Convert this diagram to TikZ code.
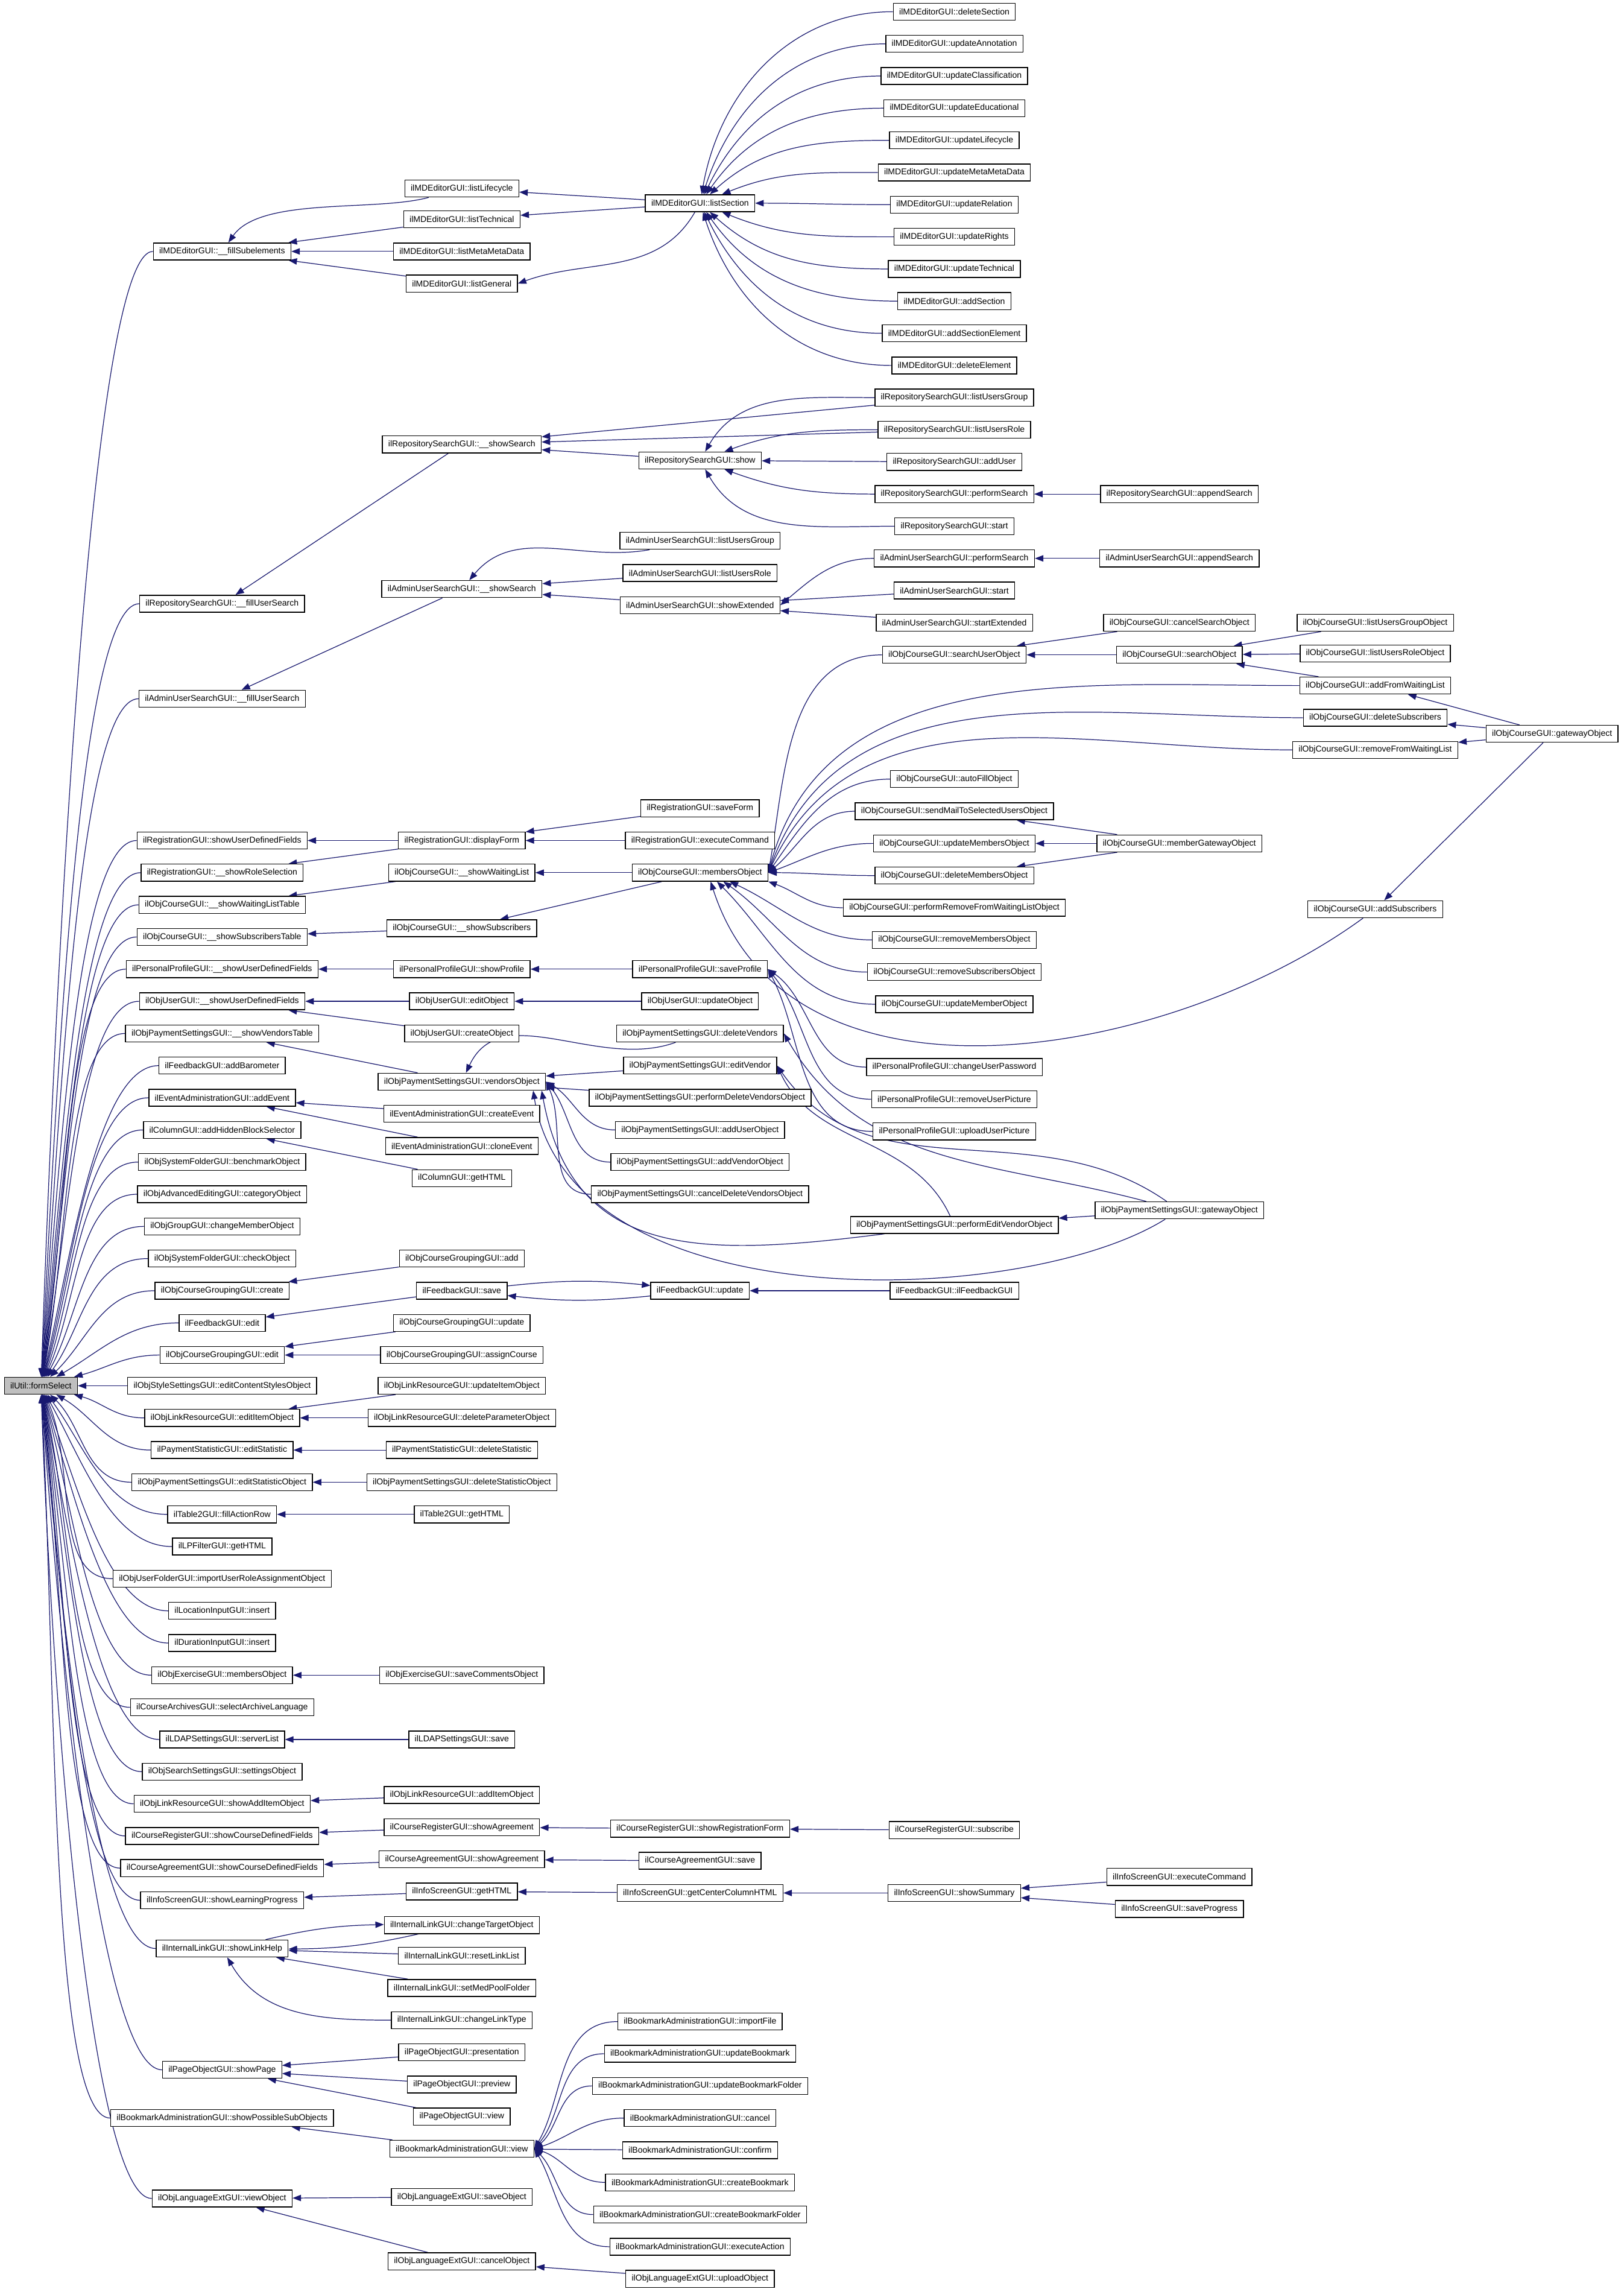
\documentclass[tikz,border=0pt]{standalone}
\usepackage{fontspec}
\newfontfamily\dotfont{Liberation Sans}
\usetikzlibrary{arrows.meta,backgrounds}
\definecolor{EdgeBlue}{HTML}{191970}
\definecolor{FocusGray}{HTML}{BFBFBF}

\begin{document}
\begin{tikzpicture}[x=0.02424cm, y=0.02424cm,
  fn/.style={draw=black, fill=white, line width=0.4pt, font=\dotfont\fontsize{4pt}{4.8pt}\selectfont, inner xsep=2.8pt, inner ysep=0pt, minimum height=8pt},
  focus/.style={fn, fill=FocusGray},
  call/.style={draw=EdgeBlue, line width=0.35pt, -{Triangle[length=4pt,width=3pt]}}]
  \node[focus] (formSelect) at (28,-948) {ilUtil::formSelect};
  \foreach \n/\y/\t in {mdFill/172/{ilMDEditorGUI::\_\_fillSubelements}, repoFill/413/{ilRepositorySearchGUI::\_\_fillUserSearch}, adminFill/478/{ilAdminUserSearchGUI::\_\_fillUserSearch},
    regUDF/575/{ilRegistrationGUI::showUserDefinedFields}, regRole/597/{ilRegistrationGUI::\_\_showRoleSelection}, crsWaitTable/619/{ilObjCourseGUI::\_\_showWaitingListTable},
    crsSubTable/641/{ilObjCourseGUI::\_\_showSubscribersTable}, ppUDF/663/{ilPersonalProfileGUI::\_\_showUserDefinedFields}, usrUDF/685/{ilObjUserGUI::\_\_showUserDefinedFields},
    payTable/707/{ilObjPaymentSettingsGUI::\_\_showVendorsTable}, fbBaro/729/{ilFeedbackGUI::addBarometer}, evAdd/751/{ilEventAdministrationGUI::addEvent},
    colAdd/773/{ilColumnGUI::addHiddenBlockSelector}, sysBench/795/{ilObjSystemFolderGUI::benchmarkObject}, advCat/817/{ilObjAdvancedEditingGUI::categoryObject},
    grpChange/839/{ilObjGroupGUI::changeMemberObject}, sysCheck/861/{ilObjSystemFolderGUI::checkObject}, grpCreate/883/{ilObjCourseGroupingGUI::create},
    fbEdit/905/{ilFeedbackGUI::edit}, grpEdit/927/{ilObjCourseGroupingGUI::edit}, styleEdit/948/{ilObjStyleSettingsGUI::editContentStylesObject},
    lnkEdit/970/{ilObjLinkResourceGUI::editItemObject}, statEdit/992/{ilPaymentStatisticGUI::editStatistic}, payStatEdit/1014/{ilObjPaymentSettingsGUI::editStatisticObject},
    tblFill/1036/{ilTable2GUI::fillActionRow}, lpHTML/1058/{ilLPFilterGUI::getHTML}, usrImport/1080/{ilObjUserFolderGUI::importUserRoleAssignmentObject},
    locInsert/1102/{ilLocationInputGUI::insert}, durInsert/1124/{ilDurationInputGUI::insert}, excMembers/1146/{ilObjExerciseGUI::membersObject},
    arcSelect/1168/{ilCourseArchivesGUI::selectArchiveLanguage}, ldapList/1190/{ilLDAPSettingsGUI::serverList}, srchSettings/1212/{ilObjSearchSettingsGUI::settingsObject},
    lnkShowAdd/1234/{ilObjLinkResourceGUI::showAddItemObject}, crFields/1256/{ilCourseRegisterGUI::showCourseDefinedFields}, caFields/1278/{ilCourseAgreementGUI::showCourseDefinedFields},
    infLP/1300/{ilInfoScreenGUI::showLearningProgress}, linkHelp/1333/{ilInternalLinkGUI::showLinkHelp}, pgShow/1416/{ilPageObjectGUI::showPage},
    bmSubObj/1449/{ilBookmarkAdministrationGUI::showPossibleSubObjects}, lngView/1504/{ilObjLanguageExtGUI::viewObject}}
    \node[fn] (\n) at (152,-\y) {\t};
  \foreach \n/\y/\t in {mdLifecycle/129/{ilMDEditorGUI::listLifecycle}, mdTechnical/150/{ilMDEditorGUI::listTechnical}, mdMetaMeta/172/{ilMDEditorGUI::listMetaMetaData},
    mdGeneral/194/{ilMDEditorGUI::listGeneral}, repoSearch/304/{ilRepositorySearchGUI::\_\_showSearch}, adminSearch/403/{ilAdminUserSearchGUI::\_\_showSearch},
    regForm/575/{ilRegistrationGUI::displayForm}, crsWaitList/597/{ilObjCourseGUI::\_\_showWaitingList}, crsSubscr/635/{ilObjCourseGUI::\_\_showSubscribers},
    ppProfile/663/{ilPersonalProfileGUI::showProfile}, usrEdit/685/{ilObjUserGUI::editObject}, usrCreate/707/{ilObjUserGUI::createObject},
    payVendors/740/{ilObjPaymentSettingsGUI::vendorsObject}, evCreate/762/{ilEventAdministrationGUI::createEvent}, evClone/784/{ilEventAdministrationGUI::cloneEvent},
    colHTML/806/{ilColumnGUI::getHTML}, grpAdd/861/{ilObjCourseGroupingGUI::add}, fbSave/883/{ilFeedbackGUI::save},
    grpUpdate/905/{ilObjCourseGroupingGUI::update}, grpAssign/927/{ilObjCourseGroupingGUI::assignCourse}, lnkUpdate/948/{ilObjLinkResourceGUI::updateItemObject},
    lnkDelParam/970/{ilObjLinkResourceGUI::deleteParameterObject}, statDelete/992/{ilPaymentStatisticGUI::deleteStatistic}, payStatDelete/1014/{ilObjPaymentSettingsGUI::deleteStatisticObject},
    tblHTML/1036/{ilTable2GUI::getHTML}, excSave/1146/{ilObjExerciseGUI::saveCommentsObject}, ldapSave/1190/{ilLDAPSettingsGUI::save},
    lnkAdd/1228/{ilObjLinkResourceGUI::addItemObject}, crAgree/1250/{ilCourseRegisterGUI::showAgreement}, caAgree/1272/{ilCourseAgreementGUI::showAgreement},
    infHTML/1294/{ilInfoScreenGUI::getHTML}, linkTarget/1317/{ilInternalLinkGUI::changeTargetObject}, linkReset/1338/{ilInternalLinkGUI::resetLinkList},
    linkMedPool/1360/{ilInternalLinkGUI::setMedPoolFolder}, linkType/1382/{ilInternalLinkGUI::changeLinkType}, pgPresent/1404/{ilPageObjectGUI::presentation},
    pgPreview/1426/{ilPageObjectGUI::preview}, pgView/1448/{ilPageObjectGUI::view}, bmView/1470/{ilBookmarkAdministrationGUI::view},
    lngSave/1503/{ilObjLanguageExtGUI::saveObject}, lngCancel/1547/{ilObjLanguageExtGUI::cancelObject}}
    \node[fn] (\n) at (316,-\y) {\t};
  \foreach \n/\y/\t in {mdSection/139/{ilMDEditorGUI::listSection}, repoShow/315/{ilRepositorySearchGUI::show}, adminGroup/370/{ilAdminUserSearchGUI::listUsersGroup},
    adminRole/392/{ilAdminUserSearchGUI::listUsersRole}, adminExt/414/{ilAdminUserSearchGUI::showExtended}, regSave/553/{ilRegistrationGUI::saveForm},
    regExec/575/{ilRegistrationGUI::executeCommand}, crsMembers/597/{ilObjCourseGUI::membersObject}, ppSave/663/{ilPersonalProfileGUI::saveProfile},
    usrUpdate/685/{ilObjUserGUI::updateObject}, payDelVendors/707/{ilObjPaymentSettingsGUI::deleteVendors}, payEditVendor/729/{ilObjPaymentSettingsGUI::editVendor},
    payPerfDelete/751/{ilObjPaymentSettingsGUI::performDeleteVendorsObject}, payAddUser/773/{ilObjPaymentSettingsGUI::addUserObject}, payAddVendor/795/{ilObjPaymentSettingsGUI::addVendorObject},
    payCancelDel/817/{ilObjPaymentSettingsGUI::cancelDeleteVendorsObject}, fbUpdate/883/{ilFeedbackGUI::update}, crRegForm/1251/{ilCourseRegisterGUI::showRegistrationForm},
    caSave/1273/{ilCourseAgreementGUI::save}, infCenter/1295/{ilInfoScreenGUI::getCenterColumnHTML}, bmImport/1383/{ilBookmarkAdministrationGUI::importFile},
    bmUpdate/1405/{ilBookmarkAdministrationGUI::updateBookmark}, bmUpdFolder/1427/{ilBookmarkAdministrationGUI::updateBookmarkFolder}, bmCancel/1449/{ilBookmarkAdministrationGUI::cancel},
    bmConfirm/1471/{ilBookmarkAdministrationGUI::confirm}, bmCreate/1493/{ilBookmarkAdministrationGUI::createBookmark}, bmCreateFolder/1515/{ilBookmarkAdministrationGUI::createBookmarkFolder},
    bmExec/1537/{ilBookmarkAdministrationGUI::executeAction}, lngUpload/1559/{ilObjLanguageExtGUI::uploadObject}}
    \node[fn] (\n) at (479,-\y) {\t};
  \foreach \n/\y/\t in {mdDelSection/8/{ilMDEditorGUI::deleteSection}, mdUpdAnnot/30/{ilMDEditorGUI::updateAnnotation}, mdUpdClass/52/{ilMDEditorGUI::updateClassification},
    mdUpdEdu/74/{ilMDEditorGUI::updateEducational}, mdUpdLife/96/{ilMDEditorGUI::updateLifecycle}, mdUpdMeta/118/{ilMDEditorGUI::updateMetaMetaData},
    mdUpdRel/140/{ilMDEditorGUI::updateRelation}, mdUpdRights/162/{ilMDEditorGUI::updateRights}, mdUpdTech/184/{ilMDEditorGUI::updateTechnical},
    mdAddSection/206/{ilMDEditorGUI::addSection}, mdAddElem/228/{ilMDEditorGUI::addSectionElement}, mdDelElem/250/{ilMDEditorGUI::deleteElement},
    repoGroup/272/{ilRepositorySearchGUI::listUsersGroup}, repoRole/294/{ilRepositorySearchGUI::listUsersRole}, repoAddUser/316/{ilRepositorySearchGUI::addUser},
    repoPerform/338/{ilRepositorySearchGUI::performSearch}, repoStart/360/{ilRepositorySearchGUI::start}, adminPerform/382/{ilAdminUserSearchGUI::performSearch},
    adminStart/404/{ilAdminUserSearchGUI::start}, adminStartExt/426/{ilAdminUserSearchGUI::startExtended}, crsSearchUser/448/{ilObjCourseGUI::searchUserObject},
    crsAutoFill/533/{ilObjCourseGUI::autoFillObject}, crsSendMail/555/{ilObjCourseGUI::sendMailToSelectedUsersObject}, crsUpdMembers/577/{ilObjCourseGUI::updateMembersObject},
    crsDelMembers/599/{ilObjCourseGUI::deleteMembersObject}, crsPerfRemove/621/{ilObjCourseGUI::performRemoveFromWaitingListObject}, crsRemMembers/643/{ilObjCourseGUI::removeMembersObject},
    crsRemSubscr/665/{ilObjCourseGUI::removeSubscribersObject}, crsUpdMember/687/{ilObjCourseGUI::updateMemberObject}, ppPassword/730/{ilPersonalProfileGUI::changeUserPassword},
    ppRemPic/752/{ilPersonalProfileGUI::removeUserPicture}, ppUpPic/774/{ilPersonalProfileGUI::uploadUserPicture}, payPerfEdit/838/{ilObjPaymentSettingsGUI::performEditVendorObject},
    fbCtor/883/{ilFeedbackGUI::ilFeedbackGUI}, crSubscribe/1252/{ilCourseRegisterGUI::subscribe}, infSummary/1295/{ilInfoScreenGUI::showSummary}}
    \node[fn] (\n) at (653,-\y) {\t};
  \foreach \n/\y/\t in {repoAppend/338/{ilRepositorySearchGUI::appendSearch}, adminAppend/382/{ilAdminUserSearchGUI::appendSearch}, crsCancelSearch/426/{ilObjCourseGUI::cancelSearchObject},
    crsSearch/448/{ilObjCourseGUI::searchObject}, crsMemberGate/577/{ilObjCourseGUI::memberGatewayObject}, payGateway/828/{ilObjPaymentSettingsGUI::gatewayObject},
    infExec/1284/{ilInfoScreenGUI::executeCommand}, infSaveProg/1306/{ilInfoScreenGUI::saveProgress}}
    \node[fn] (\n) at (807,-\y) {\t};
  \foreach \n/\y/\t in {crsGroupObj/426/{ilObjCourseGUI::listUsersGroupObject}, crsRoleObj/447/{ilObjCourseGUI::listUsersRoleObject}, crsAddWait/469/{ilObjCourseGUI::addFromWaitingList},
    crsDelSubscr/491/{ilObjCourseGUI::deleteSubscribers}, crsRemWait/513/{ilObjCourseGUI::removeFromWaitingList}, crsAddSubscr/622/{ilObjCourseGUI::addSubscribers}}
    \node[fn] (\n) at (941,-\y) {\t};
  \node[fn] (crsGateway) at (1062,-502) {ilObjCourseGUI::gatewayObject};

  \begin{scope}[on background layer]
  \path[fill=white, use as bounding box] (0,0) rectangle (1111,-1568);
  \foreach \s/\b in {mdFill/88, repoFill/87, adminFill/86, regUDF/85, regRole/84, crsWaitTable/83, crsSubTable/82, ppUDF/81, usrUDF/80, payTable/79,
    fbBaro/77, evAdd/75, colAdd/73, sysBench/70, advCat/66, grpChange/61, sysCheck/54, grpCreate/44, fbEdit/30, grpEdit/15, styleEdit/0,
    lnkEdit/-15, statEdit/-30, payStatEdit/-44, tblFill/-54, lpHTML/-61, usrImport/-66, locInsert/-70, durInsert/-73, excMembers/-75, arcSelect/-77,
    ldapList/-79, srchSettings/-80, lnkShowAdd/-81, crFields/-82, caFields/-83, infLP/-84, linkHelp/-85, pgShow/-86, bmSubObj/-87, lngView/-88}
    \draw[call] (\s) to[out=180,in=\b,out max distance=1cm] (formSelect);
  \foreach \s/\t in {mdTechnical/mdFill, mdMetaMeta/mdFill, mdGeneral/mdFill, mdSection/mdLifecycle, mdSection/mdTechnical,
    repoSearch/repoFill, repoGroup/repoSearch, repoRole/repoSearch, repoShow/repoSearch, repoAddUser/repoShow, repoAppend/repoPerform,
    adminSearch/adminFill, adminRole/adminSearch, adminExt/adminSearch, adminStart/adminExt, adminStartExt/adminExt, adminAppend/adminPerform,
    regForm/regUDF, regForm/regRole, regSave/regForm, regExec/regForm,
    crsWaitList/crsWaitTable, crsSubscr/crsSubTable, crsMembers/crsWaitList, crsMembers/crsSubscr,
    crsCancelSearch/crsSearchUser, crsSearch/crsSearchUser, crsGroupObj/crsSearch, crsRoleObj/crsSearch, crsAddWait/crsSearch,
    crsGateway/crsAddWait, crsGateway/crsDelSubscr, crsGateway/crsRemWait, crsGateway/crsAddSubscr,
    crsMemberGate/crsSendMail, crsMemberGate/crsUpdMembers, crsMemberGate/crsDelMembers,
    ppProfile/ppUDF, ppSave/ppProfile, usrEdit/usrUDF, usrCreate/usrUDF, usrUpdate/usrEdit,
    payVendors/payTable, payEditVendor/payVendors, payPerfDelete/payVendors, payGateway/payPerfEdit,
    evCreate/evAdd, evClone/evAdd, colHTML/colAdd, grpAdd/grpCreate, fbSave/fbEdit, fbCtor/fbUpdate, grpUpdate/grpEdit, grpAssign/grpEdit,
    lnkUpdate/lnkEdit, lnkDelParam/lnkEdit, statDelete/statEdit, payStatDelete/payStatEdit, tblHTML/tblFill,
    excSave/excMembers, ldapSave/ldapList, lnkAdd/lnkShowAdd, crAgree/crFields, crRegForm/crAgree, crSubscribe/crRegForm,
    caAgree/caFields, caSave/caAgree, infHTML/infLP, infCenter/infHTML, infSummary/infCenter, infExec/infSummary, infSaveProg/infSummary,
    linkReset/linkHelp, linkMedPool/linkHelp, pgPresent/pgShow, pgPreview/pgShow, pgView/pgShow, bmView/bmSubObj, bmConfirm/bmView,
    lngSave/lngView, lngCancel/lngView, lngUpload/lngCancel}
    \draw[call] (\s) -- (\t);
  \foreach \s/\t/\a/\b in {mdSection/mdGeneral.east/240/20,
    mdDelSection/mdSection/180/80, mdUpdAnnot/mdSection/180/72, mdUpdClass/mdSection/180/64, mdUpdEdu/mdSection/180/55, mdUpdLife/mdSection/180/42,
    mdUpdMeta/mdSection/180/22, mdUpdRel/mdSection/180/0, mdUpdRights/mdSection/180/-22, mdUpdTech/mdSection/180/-42, mdAddSection/mdSection/180/-55,
    mdAddElem/mdSection/180/-64, mdDelElem/mdSection/180/-72,
    repoGroup/repoShow/180/60, repoRole/repoShow/180/20, repoPerform/repoShow/180/-20, repoStart/repoShow/180/-60,
    adminGroup/adminSearch/190/50, adminPerform/adminExt.east/180/40,
    crsSearchUser/crsMembers.east/180/80, crsAddWait/crsMembers.east/180/75, crsDelSubscr/crsMembers.east/180/70, crsRemWait/crsMembers.east/180/65,
    crsAutoFill/crsMembers.east/180/55, crsSendMail/crsMembers.east/180/40, crsUpdMembers/crsMembers.east/180/20, crsDelMembers/crsMembers.east/180/0,
    crsPerfRemove/crsMembers.south east/180/-20,
    ppPassword/ppSave.east/180/-35, ppRemPic/ppSave.east/180/-50, ppUpPic/ppSave.east/180/-62,
    payDelVendors/payVendors/200/65, payAddUser/payVendors.east/180/-30, payAddVendor/payVendors.east/180/-50, payCancelDel/payVendors.east/180/-65,
    payGateway/payDelVendors.east/165/-60, payGateway/payEditVendor.east/145/-55, payPerfEdit/payEditVendor.east/115/-65,
    bmImport/bmView.east/180/60, bmUpdate/bmView.east/180/50, bmUpdFolder/bmView.east/180/40, bmCancel/bmView.east/180/18,
    bmCreate/bmView.east/180/-18, bmCreateFolder/bmView.east/180/-45, bmExec/bmView.east/180/-60, linkType/linkHelp/180/-60}
    \draw[call] (\s) to[out=\a,in=\b] (\t);
  \draw[call] (mdLifecycle) to[out=195,in=55,looseness=0.7] (mdFill);
  \draw[call] (crsRemMembers) to[out=180,in=-25] ([xshift=14pt]crsMembers.south);
  \draw[call] (crsRemSubscr) to[out=180,in=-35] ([xshift=11pt]crsMembers.south);
  \draw[call] (crsUpdMember) to[out=180,in=-45] ([xshift=8pt]crsMembers.south);
  \draw[call] (crsAddSubscr) .. controls (800,-725) and (540,-770) .. ([xshift=5pt]crsMembers.south);
  \draw[call] (payPerfEdit) .. controls (480,-860) and (392,-862) .. ([xshift=-2pt]payVendors.south east);
  \draw[call] (payGateway) .. controls (700,-895) and (390,-905) .. ([xshift=-6pt]payVendors.south east);
  \draw[call] (fbSave) to[bend left=6] (fbUpdate);
  \draw[call] (fbUpdate) to[bend left=6] (fbSave);
  \draw[call] (linkHelp) to[bend left=6] (linkTarget);
  \draw[call] (linkTarget) to[bend left=6] (linkHelp);
  \end{scope}
\end{tikzpicture}
\end{document}
